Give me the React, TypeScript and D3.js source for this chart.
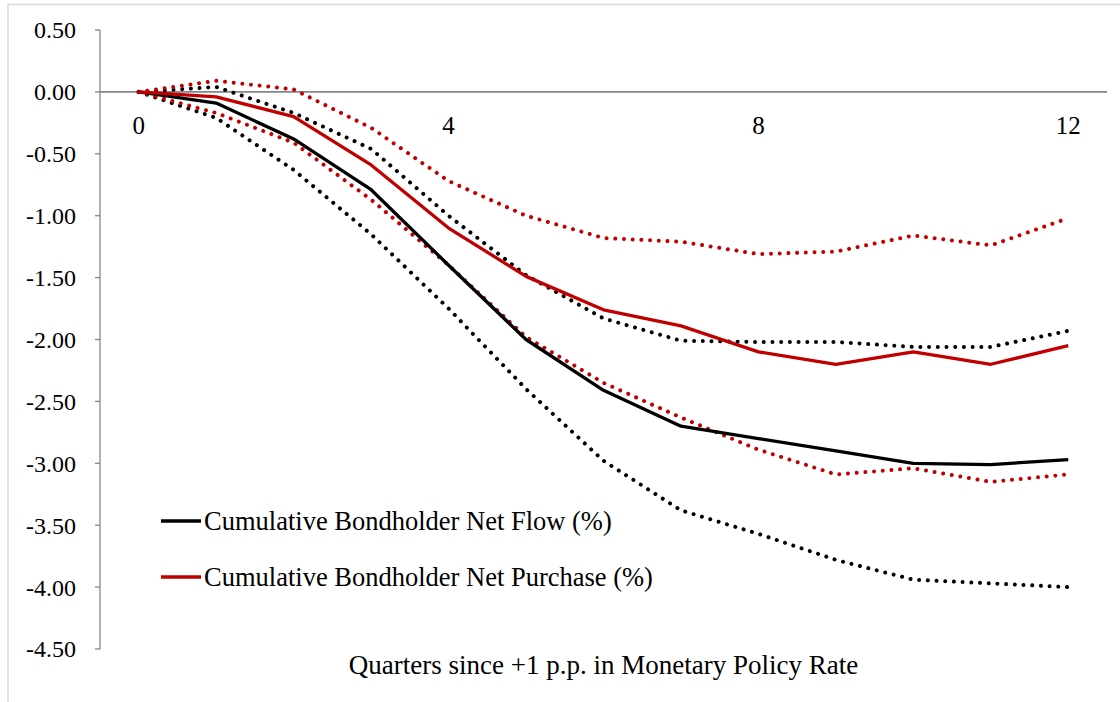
import React from "react";
import * as d3 from "d3";

const quarters = [0, 1, 2, 3, 4, 5, 6, 7, 8, 9, 10, 11, 12];
const xTickLabels = ["0", "4", "8", "12"];
const yTicks = [0.5, 0, -0.5, -1, -1.5, -2, -2.5, -3, -3.5, -4, -4.5];

const netFlow = [0, -0.09, -0.38, -0.79, -1.4, -2.0, -2.41, -2.7, -2.8, -2.9, -3.0, -3.01, -2.97];
const netFlowUpper = [0, 0.04, -0.17, -0.46, -1.0, -1.48, -1.83, -2.01, -2.02, -2.02, -2.06, -2.06, -1.93];
const netFlowLower = [0, -0.21, -0.63, -1.15, -1.75, -2.4, -2.98, -3.38, -3.57, -3.78, -3.94, -3.97, -4.0];

const netPurchase = [0, -0.04, -0.2, -0.59, -1.1, -1.49, -1.76, -1.89, -2.1, -2.2, -2.1, -2.2, -2.05];
const netPurchaseUpper = [0, 0.09, 0.02, -0.29, -0.72, -1.0, -1.18, -1.21, -1.31, -1.29, -1.16, -1.24, -1.02];
const netPurchaseLower = [0, -0.17, -0.41, -0.87, -1.4, -1.98, -2.35, -2.63, -2.89, -3.09, -3.04, -3.15, -3.09];

const legendLabels = ["Cumulative Bondholder Net Flow (%)", "Cumulative Bondholder Net Purchase (%)"];
const xTitle = "Quarters since +1 p.p. in Monetary Policy Rate";

const BLACK = "#000000";
const RED = "#C00000";
const FONT = "Liberation Serif, Tinos, DejaVu Serif, Noto Serif, serif";

export default function App() {
  const W = 1120;
  const H = 702;
  const left = 100;
  const right = 1107;
  const top = 30;
  const bottom = 649;

  const x = d3
    .scalePoint<number>()
    .domain(quarters)
    .range([left, right])
    .padding(0.5);
  const y = d3.scaleLinear().domain([0.5, -4.5]).range([top, bottom]);

  const line = d3
    .line<number>()
    .x((_, i) => x(quarters[i]) as number)
    .y((d) => y(d));

  const series = [
    { data: netFlowUpper, color: BLACK, dotted: true },
    { data: netFlowLower, color: BLACK, dotted: true },
    { data: netPurchaseUpper, color: RED, dotted: true },
    { data: netPurchaseLower, color: RED, dotted: true },
    { data: netFlow, color: BLACK, dotted: false },
    { data: netPurchase, color: RED, dotted: false },
  ];

  const legendColors = [BLACK, RED];
  const legendY = [521, 577];

  return (
    <svg
      width={W}
      height={H}
      style={{ position: "absolute", left: 0, top: 0, background: "#fff" }}
    >
      <rect x={8} y={4.5} width={W} height={H} fill="#fff" stroke="#d9d9d9" strokeWidth={1.5} />

      {/* y axis */}
      <line x1={left} x2={left} y1={top} y2={bottom} stroke="#868686" strokeWidth={1.3} />
      {yTicks.map((t) => (
        <g key={t}>
          <line x1={left - 5} x2={left} y1={y(t)} y2={y(t)} stroke="#868686" strokeWidth={1.3} />
          <text
            x={76}
            y={y(t)}
            dy="0.35em"
            textAnchor="end"
            fontSize={24}
            fontFamily={FONT}
            fill="#000"
          >
            {d3.format(".2f")(t).replace("−", "-")}
          </text>
        </g>
      ))}

      {/* x axis at zero */}
      <line x1={left} x2={right} y1={y(0)} y2={y(0)} stroke="#868686" strokeWidth={1.6} />
      {xTickLabels.map((l) => (
        <text
          key={l}
          x={x(+l) as number}
          y={y(0) + 33}
          dy="0.35em"
          textAnchor="middle"
          fontSize={25}
          fontFamily={FONT}
          fill="#000"
        >
          {l}
        </text>
      ))}

      {/* series */}
      {series.map((s, i) => (
        <path
          key={i}
          d={line(s.data) || ""}
          fill="none"
          stroke={s.color}
          strokeWidth={s.dotted ? 4 : 3.3}
          strokeDasharray={s.dotted ? "0.01 8.7" : undefined}
          strokeLinecap={s.dotted ? "round" : "butt"}
          strokeLinejoin="round"
        />
      ))}

      {/* legend */}
      {legendLabels.map((l, i) => (
        <g key={l}>
          <line x1={161} x2={201} y1={legendY[i]} y2={legendY[i]} stroke={legendColors[i]} strokeWidth={3.4} />
          <text x={204} y={legendY[i]} dy="0.35em" fontSize={26.5} fontFamily={FONT} fill="#000">
            {l}
          </text>
        </g>
      ))}

      {/* x title */}
      <text
        x={(left + right) / 2}
        y={665}
        dy="0.35em"
        textAnchor="middle"
        fontSize={27}
        fontFamily={FONT}
        fill="#000"
      >
        {xTitle}
      </text>
    </svg>
  );
}
